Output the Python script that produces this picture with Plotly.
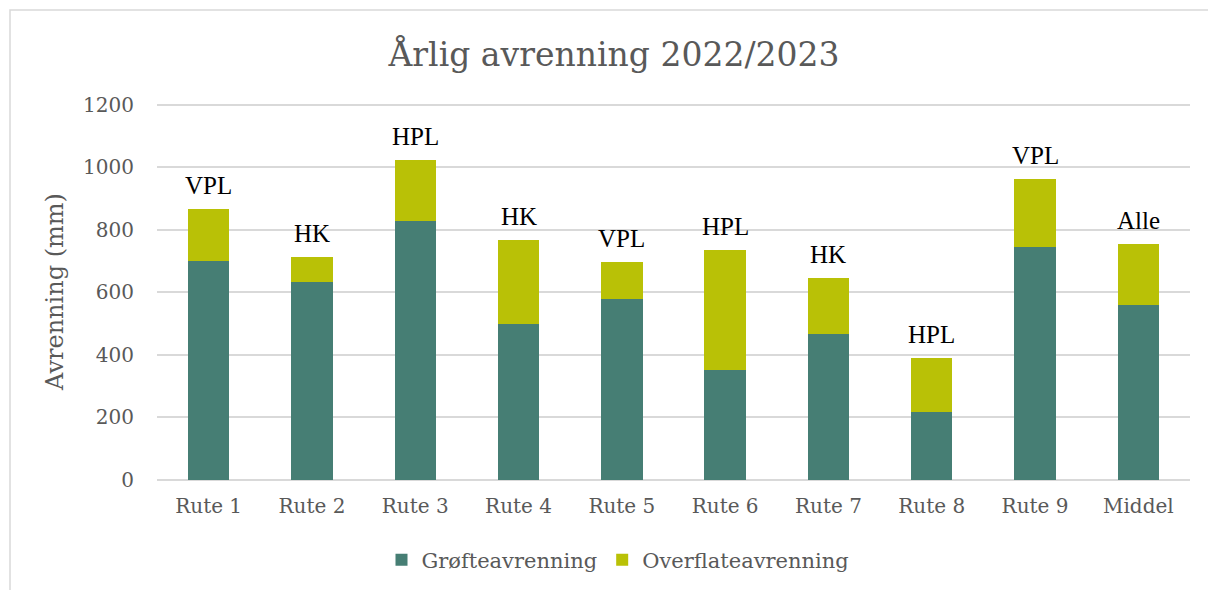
import plotly.graph_objects as go

categories = ["Rute 1", "Rute 2", "Rute 3", "Rute 4", "Rute 5", "Rute 6", "Rute 7", "Rute 8", "Rute 9", "Middel"]
grofte = [701, 634, 829, 500, 580, 353, 467, 219, 744, 559]
overflate = [166, 78, 195, 268, 118, 383, 179, 171, 219, 197]
labels = ["VPL", "HK", "HPL", "HK", "VPL", "HPL", "HK", "HPL", "VPL", "Alle"]
y_ticks = [0, 200, 400, 600, 800, 1000, 1200]

totals = [g + o for g, o in zip(grofte, overflate)]

GRAY = "#595959"
SERIF = "DejaVu Serif"

fig = go.Figure()
fig.add_trace(go.Bar(x=categories, y=grofte, name="Grøfteavrenning",
                     marker=dict(color="#467E74", line=dict(width=0))))
fig.add_trace(go.Bar(x=categories, y=overflate, name="Overflateavrenning",
                     marker=dict(color="#B9C106", line=dict(width=0))))

for c, t, lab in zip(categories, totals, labels):
    fig.add_annotation(x=c, y=t, text=lab, showarrow=False, yanchor="bottom",
                       yshift=8, font=dict(family="Liberation Serif", size=25, color="#000000"))

W, H = 1208, 590
L, R, T, B = 157, 18, 103, 110
pw, ph = W - L - R, H - T - B
fig.add_shape(type="rect", xref="paper", yref="paper",
              x0=(10 - L) / pw, x1=(W + 20 - L) / pw,
              y0=(H - B - (H + 20)) / ph, y1=(H - B - 10) / ph,
              line=dict(color="#d9d9d9", width=1.5), fillcolor="rgba(0,0,0,0)", layer="below")

fig.update_layout(
    width=W, height=H,
    margin=dict(l=L, r=R, t=T, b=B, autoexpand=False),
    barmode="stack", bargap=0.6,
    plot_bgcolor="white", paper_bgcolor="white",
    title=dict(text="Årlig avrenning 2022/2023", x=614 / W, xanchor="center",
               y=1 - 54 / H, yanchor="middle",
               font=dict(family=SERIF, size=33, color=GRAY)),
    font=dict(family=SERIF, color=GRAY, size=20),
    legend=dict(orientation="h", x=(618 - L) / pw, xanchor="center", y=-80 / ph, yanchor="middle",
                font=dict(family=SERIF, size=21, color=GRAY), traceorder="normal",
                itemwidth=30),
    showlegend=True,
)
fig.update_xaxes(showline=False, showgrid=False, ticks="", ticklabelstandoff=12,
                 tickfont=dict(family=SERIF, size=20, color=GRAY))
fig.update_yaxes(range=[0, 1206], tickvals=y_ticks, showgrid=True, gridcolor="#d9d9d9",
                 gridwidth=1.5, zeroline=True, zerolinecolor="#d9d9d9", zerolinewidth=1.5,
                 showline=False, ticks="", ticklabelstandoff=22,
                 tickfont=dict(family=SERIF, size=20, color=GRAY),
                 title=dict(text="Avrenning (mm)", font=dict(family=SERIF, size=24, color=GRAY),
                            standoff=12))

fig.write_html("out.html", config={"displayModeBar": False},
               post_script="document.body.style.margin='0';")
